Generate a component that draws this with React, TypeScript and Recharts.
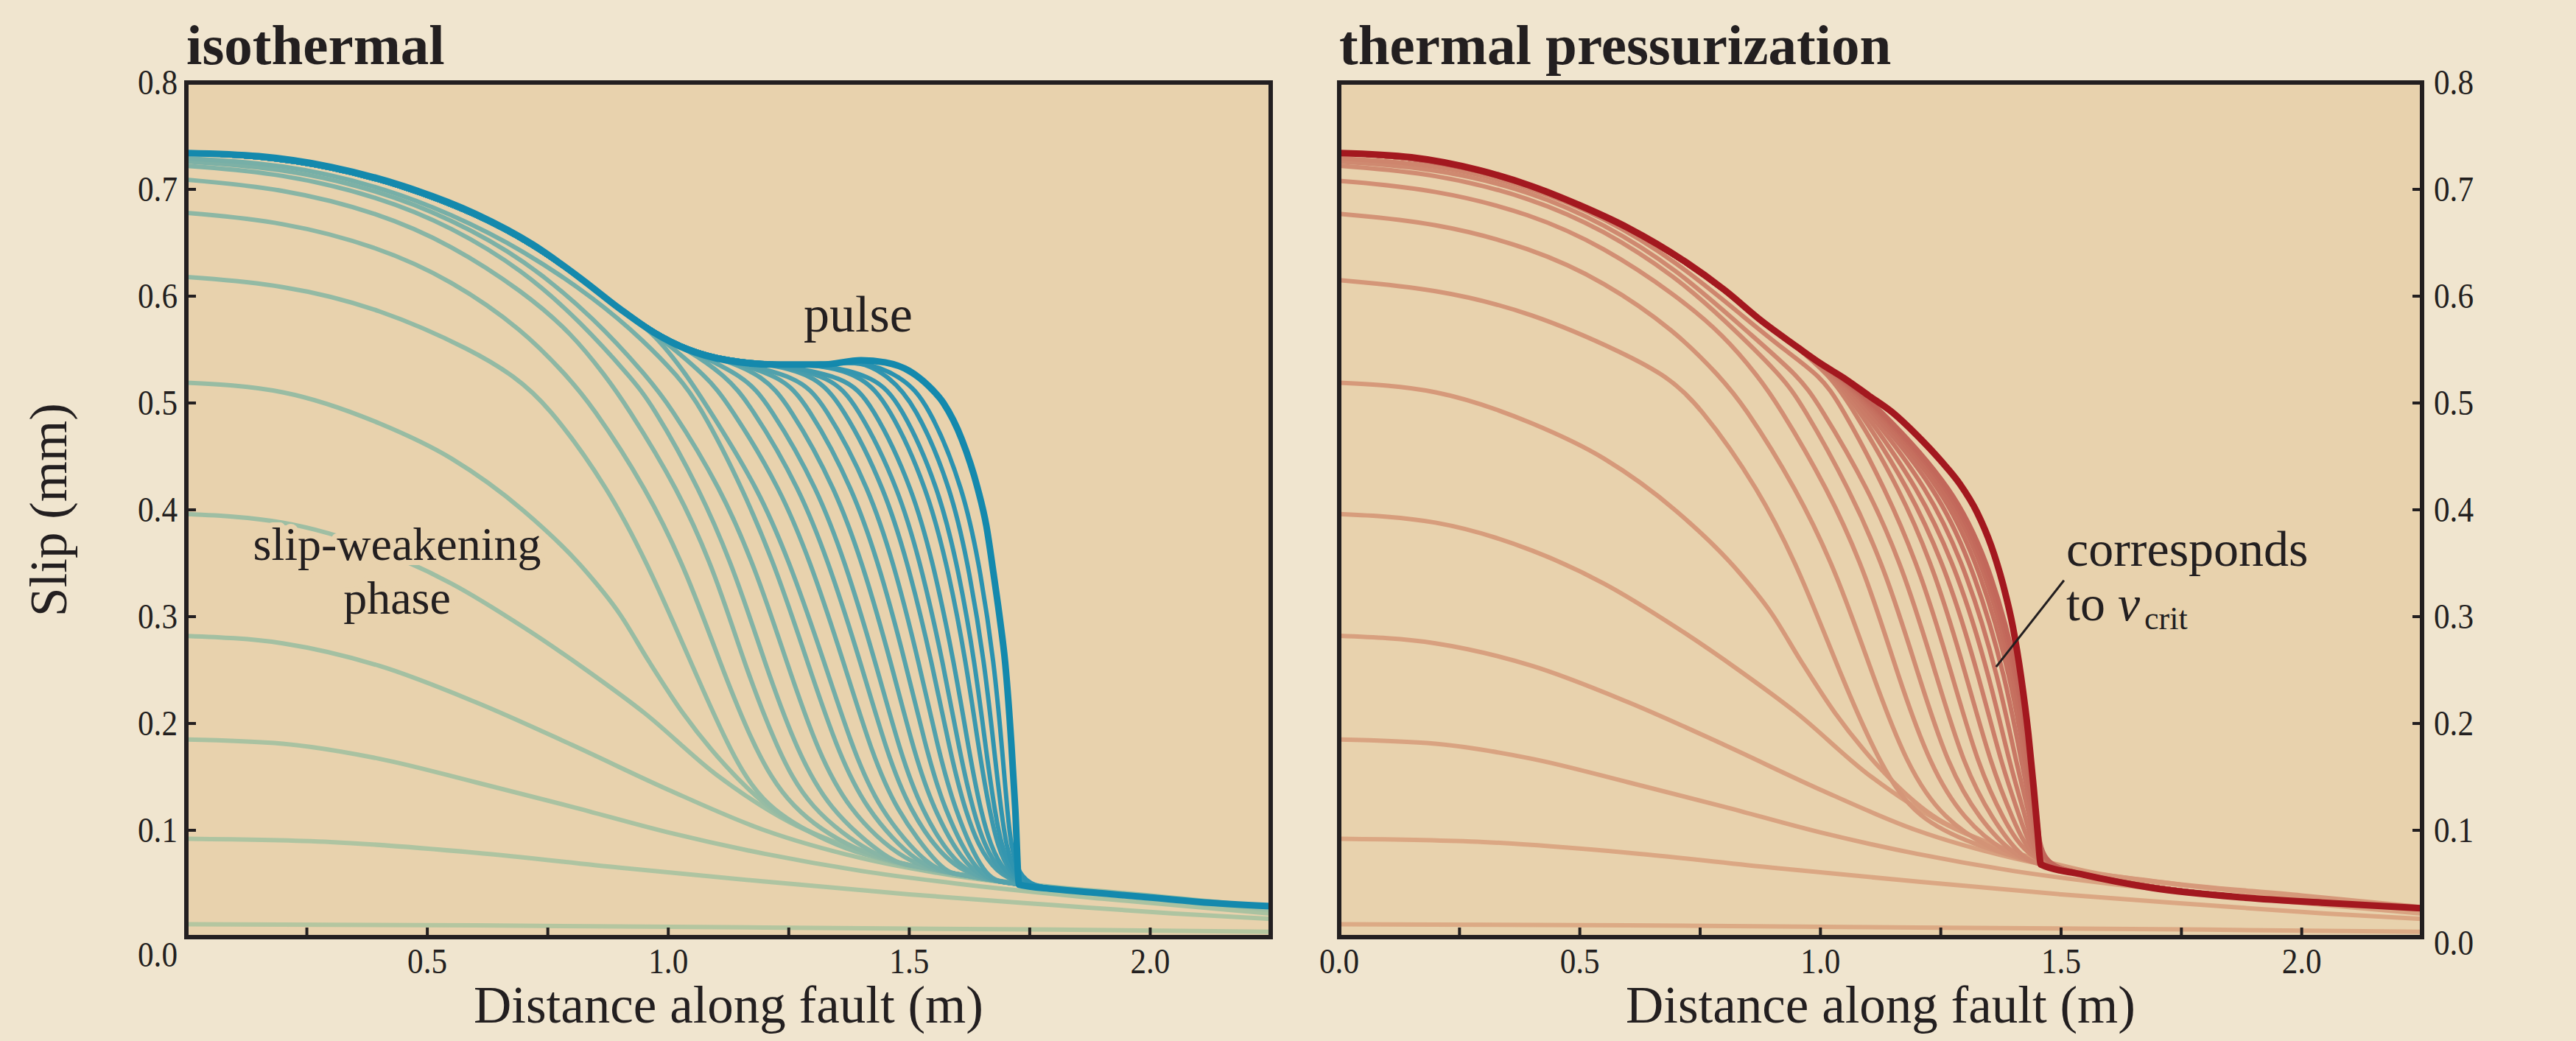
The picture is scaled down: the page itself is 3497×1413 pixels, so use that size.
import { CartesianGrid, Line, LineChart, ReferenceLine, XAxis, YAxis } from 'recharts';

type Pair = [number, number];

const W = 3497;
const H = 1413;
const INK = '#231f20';
const PAGE_BG = '#f0e5cf';
const PLOT_BG = '#e8d2ad';
const FONT = '"Liberation Serif", "DejaVu Serif", serif';

const X_TICKS = [0, 0.25, 0.5, 0.75, 1, 1.25, 1.5, 1.75, 2];
const X_LABELS = [0, 0.5, 1, 1.5, 2];
const Y_TICKS = [0, 0.1, 0.2, 0.3, 0.4, 0.5, 0.6, 0.7, 0.8];

// slip-weakening phase, identical in both panels (distance m, slip mm)
const EARLY_PROFILES: Pair[][] = [
  [[0, 0.012], [0.6, 0.011], [1.2, 0.009], [1.8, 0.007], [2.25, 0.005]],
  [[0, 0.092], [0.3, 0.089], [0.6, 0.079], [0.9, 0.065], [1.2, 0.052], [1.5, 0.04], [1.8, 0.03], [2.05, 0.022], [2.25, 0.017]],
  [[0, 0.185], [0.2, 0.181], [0.4, 0.167], [0.6, 0.145], [0.8, 0.122], [1.0, 0.098], [1.2, 0.078], [1.4, 0.062], [1.6, 0.05], [1.9, 0.036], [2.25, 0.022]],
  [[0, 0.282], [0.2, 0.275], [0.4, 0.254], [0.6, 0.22], [0.8, 0.18], [1.0, 0.138], [1.2, 0.1], [1.4, 0.074], [1.6, 0.057], [1.9, 0.042], [2.25, 0.025]],
  [[0, 0.396], [0.2, 0.388], [0.4, 0.362], [0.55, 0.331], [0.7, 0.29], [0.83, 0.25], [0.95, 0.21], [1.1, 0.152], [1.25, 0.108], [1.4, 0.08], [1.55, 0.062], [1.75, 0.049], [2.0, 0.037], [2.25, 0.026]],
  [[0, 0.519], [0.2, 0.51], [0.4, 0.481], [0.55, 0.448], [0.7, 0.399], [0.82, 0.347], [0.9, 0.302], [0.96, 0.258], [1.03, 0.21], [1.12, 0.16], [1.22, 0.118], [1.35, 0.088], [1.5, 0.066], [1.7, 0.052], [2.0, 0.039], [2.25, 0.028]],
];

// ---- isothermal ----
const ISO_HEADS: Pair[][] = [
  [[0, 0.618], [0.2, 0.611], [0.4, 0.589], [0.6, 0.548]],
  [[0, 0.678], [0.2, 0.67], [0.4, 0.646], [0.55, 0.615], [0.7, 0.568]],
  [[0, 0.709], [0.2, 0.701], [0.4, 0.678], [0.55, 0.648], [0.7, 0.604], [0.8, 0.565]],
  [[0, 0.722], [0.2, 0.715], [0.4, 0.693], [0.55, 0.665], [0.7, 0.624], [0.82, 0.575]],
  [[0, 0.726], [0.2, 0.72], [0.4, 0.699], [0.55, 0.672], [0.7, 0.635], [0.85, 0.578]],
  [[0, 0.729], [0.2, 0.724], [0.4, 0.703], [0.55, 0.677], [0.7, 0.643], [0.85, 0.597], [0.95, 0.558]],
];
const ISO_ENVELOPE: Pair[] = [
  [0, 0.734], [0.15, 0.731], [0.3, 0.721], [0.45, 0.703], [0.6, 0.677], [0.72, 0.648], [0.82, 0.616],
  [0.9, 0.588], [0.97, 0.566], [1.04, 0.55], [1.12, 0.54], [1.22, 0.536], [1.32, 0.536], [1.4, 0.54], [1.45, 0.538],
];
const ISO_LEVELS = [0.525, 0.5, 0.42, 0.34, 0.257, 0.18, 0.12];
// x where each later profile crosses ISO_LEVELS, then the point where it meets the tail
const ISO_FRONTS: number[][] = [
  [0.68, 0.747, 0.877, 0.967, 1.047, 1.122, 1.197, 1.347, 0.086],
  [0.79, 0.838, 0.955, 1.04, 1.107, 1.175, 1.25, 1.393, 0.079],
  [0.87, 0.91, 1.02, 1.098, 1.157, 1.222, 1.29, 1.43, 0.075],
  [0.92, 0.965, 1.065, 1.14, 1.2, 1.262, 1.33, 1.459, 0.071],
  [0.955, 1.0, 1.11, 1.185, 1.246, 1.305, 1.37, 1.492, 0.068],
  [1.02, 1.063, 1.155, 1.228, 1.289, 1.347, 1.407, 1.521, 0.065],
  [1.04, 1.076, 1.188, 1.261, 1.324, 1.38, 1.435, 1.543, 0.063],
  [1.08, 1.124, 1.234, 1.304, 1.364, 1.417, 1.469, 1.569, 0.061],
  [1.12, 1.168, 1.274, 1.341, 1.399, 1.449, 1.497, 1.591, 0.06],
  [1.158, 1.207, 1.311, 1.375, 1.43, 1.477, 1.522, 1.608, 0.058],
  [1.197, 1.248, 1.348, 1.41, 1.462, 1.506, 1.548, 1.627, 0.057],
  [1.235, 1.287, 1.384, 1.443, 1.492, 1.533, 1.571, 1.643, 0.055],
  [1.27, 1.323, 1.418, 1.474, 1.52, 1.558, 1.593, 1.657, 0.054],
  [1.305, 1.359, 1.45, 1.503, 1.547, 1.582, 1.613, 1.671, 0.053],
  [1.336, 1.39, 1.479, 1.529, 1.57, 1.602, 1.63, 1.68, 0.053],
  [1.368, 1.422, 1.508, 1.555, 1.593, 1.622, 1.646, 1.69, 0.052],
  [1.402, 1.456, 1.538, 1.583, 1.618, 1.643, 1.665, 1.701, 0.051],
  [1.428, 1.482, 1.562, 1.604, 1.636, 1.658, 1.676, 1.706, 0.051],
  [1.457, 1.511, 1.588, 1.626, 1.656, 1.675, 1.69, 1.712, 0.05],
  [1.485, 1.539, 1.613, 1.649, 1.676, 1.692, 1.703, 1.719, 0.05],
];
const ISO_TAIL: Pair[] = [
  [1.3, 0.094], [1.4, 0.078], [1.5, 0.067], [1.6, 0.059], [1.7, 0.051], [1.8, 0.045], [1.9, 0.041], [2.0, 0.037], [2.1, 0.033], [2.25, 0.029],
];
const ISO_FINAL_FRONT: Pair[] = [
  [1.5, 0.53], [1.54, 0.516], [1.571, 0.5], [1.609, 0.466], [1.642, 0.42], [1.66, 0.385], [1.675, 0.34], [1.688, 0.298],
  [1.699, 0.257], [1.712, 0.18], [1.72, 0.12], [1.728, 0.049], [1.8, 0.045], [1.9, 0.041], [2.0, 0.037], [2.1, 0.033], [2.25, 0.029],
];

// ---- thermal pressurization ----
const TP_HEADS: Pair[][] = [
  [[0, 0.615], [0.2, 0.607], [0.4, 0.585], [0.6, 0.545]],
  [[0, 0.677], [0.2, 0.669], [0.4, 0.645], [0.55, 0.614], [0.7, 0.567]],
  [[0, 0.708], [0.2, 0.7], [0.4, 0.677], [0.55, 0.646], [0.7, 0.601], [0.8, 0.563]],
  [[0, 0.722], [0.2, 0.715], [0.4, 0.692], [0.55, 0.662], [0.7, 0.618], [0.8, 0.578]],
  [[0, 0.726], [0.2, 0.72], [0.4, 0.698], [0.55, 0.668], [0.7, 0.626], [0.85, 0.566]],
  [[0, 0.729], [0.2, 0.724], [0.4, 0.702], [0.55, 0.674], [0.7, 0.633], [0.85, 0.577], [0.93, 0.548]],
];
const TP_ENVELOPE: Pair[] = [
  [0, 0.734], [0.15, 0.73], [0.29, 0.718], [0.4, 0.703], [0.5, 0.685], [0.6, 0.664], [0.72, 0.632],
  [0.8, 0.606], [0.88, 0.576], [0.95, 0.553], [1.0, 0.537], [1.05, 0.523], [1.1, 0.507],
];
const TP_LEVELS = [0.525, 0.5, 0.42, 0.34, 0.243, 0.16, 0.11];
const TP_FRONTS: number[][] = [
  [0.68, 0.745, 0.872, 0.96, 1.044, 1.125, 1.2, 1.33, 0.085],
  [0.79, 0.838, 0.95, 1.035, 1.11, 1.18, 1.255, 1.36, 0.081],
  [0.87, 0.91, 1.015, 1.095, 1.162, 1.228, 1.297, 1.385, 0.078],
  [0.92, 0.96, 1.06, 1.138, 1.205, 1.265, 1.33, 1.405, 0.075],
  [0.955, 0.995, 1.1, 1.176, 1.242, 1.298, 1.357, 1.42, 0.073],
  [1.0, 1.04, 1.135, 1.21, 1.275, 1.328, 1.38, 1.432, 0.072],
  [1.02, 1.06, 1.165, 1.24, 1.304, 1.355, 1.4, 1.44, 0.071],
  [1.027, 1.07, 1.185, 1.265, 1.33, 1.377, 1.416, 1.446, 0.07],
  [1.032, 1.078, 1.205, 1.287, 1.352, 1.394, 1.428, 1.45, 0.069],
  [1.036, 1.086, 1.225, 1.306, 1.37, 1.408, 1.437, 1.453, 0.069],
  [1.039, 1.093, 1.243, 1.322, 1.385, 1.419, 1.443, 1.455, 0.068],
  [1.041, 1.099, 1.256, 1.335, 1.396, 1.427, 1.446, 1.456, 0.068],
  [1.042, 1.104, 1.266, 1.345, 1.404, 1.432, 1.448, 1.457, 0.068],
  [1.043, 1.108, 1.274, 1.352, 1.41, 1.436, 1.45, 1.457, 0.068],
  [1.044, 1.112, 1.28, 1.358, 1.414, 1.439, 1.451, 1.458, 0.068],
];
const TP_TAIL: Pair[] = [
  [1.35, 0.083], [1.4, 0.076], [1.458, 0.068], [1.54, 0.059], [1.69, 0.046], [1.88, 0.037], [2.05, 0.032], [2.25, 0.027],
];
const TP_FINAL_FRONT: Pair[] = [
  [1.15, 0.491], [1.2, 0.47], [1.25, 0.446], [1.29, 0.424], [1.325, 0.398], [1.355, 0.366], [1.38, 0.329], [1.4, 0.29],
  [1.417, 0.243], [1.432, 0.19], [1.443, 0.14], [1.451, 0.1], [1.458, 0.068], [1.54, 0.059], [1.69, 0.046], [1.88, 0.037], [2.05, 0.032], [2.25, 0.027],
];

// leader for the "corresponds to v_crit" note, in data units of the right panel
const LEADER: Pair[] = [[1.365, 0.253], [1.506, 0.334]];

function buildCurves(heads: Pair[][], envelope: Pair[], levels: number[], fronts: number[][], tail: Pair[], finalFront: Pair[]) {
  const curves: Pair[][] = EARLY_PROFILES.map((c) => c.slice());
  fronts.forEach((row, k) => {
    const xs = row.slice(0, levels.length);
    const join: Pair = [row[levels.length], row[levels.length + 1]];
    const head = heads[k] ?? envelope;
    const pts: Pair[] = head.filter(([x]) => x < xs[0] - 0.05);
    levels.forEach((lv, i) => pts.push([xs[i], lv]));
    pts.push(join);
    tail.filter(([x]) => x > join[0] + 0.03).forEach((p) => pts.push(p));
    curves.push(pts);
  });
  curves.push([...envelope, ...finalFront]);
  return curves;
}

function hexToRgb(h: string) {
  const n = parseInt(h.slice(1), 16);
  return [(n >> 16) & 255, (n >> 8) & 255, n & 255];
}

function ramp(from: string, to: string, last: string, count: number) {
  const a = hexToRgb(from);
  const b = hexToRgb(to);
  const out: string[] = [];
  for (let i = 0; i < count - 1; i++) {
    const t = count > 2 ? i / (count - 2) : 0;
    const c = a.map((v, j) => Math.round(v + (b[j] - v) * t));
    out.push(`rgb(${c[0]},${c[1]},${c[2]})`);
  }
  out.push(last);
  return out;
}

const isoCurves = buildCurves(ISO_HEADS, ISO_ENVELOPE, ISO_LEVELS, ISO_FRONTS, ISO_TAIL, ISO_FINAL_FRONT);
const tpCurves = buildCurves(TP_HEADS, TP_ENVELOPE, TP_LEVELS, TP_FRONTS, TP_TAIL, TP_FINAL_FRONT);
const isoColors = ramp('#b4c6a0', '#2a92b0', '#1489ad', isoCurves.length);
const tpColors = ramp('#dcaa85', '#c2675a', '#a3181f', tpCurves.length);

const AXIS_LINE = { stroke: INK, strokeWidth: 6, strokeLinecap: 'square' as const };
const TICK_LINE = { stroke: INK, strokeWidth: 4 };
const AXIS_SIZE = 60;
const TICK_FONT = 48;

function TickText({ x, y, anchor, children }: { x: number; y: number; anchor: 'start' | 'middle' | 'end'; children: string }) {
  // the original tick numerals are a narrow face, so squeeze a little
  return (
    <text transform={`translate(${x} ${y}) scale(0.9 1)`} textAnchor={anchor} fontFamily={FONT} fontSize={TICK_FONT} fill={INK}>
      {children}
    </text>
  );
}

function bottomTick(showZero: boolean) {
  return (props: any) => {
    const { x, y, payload } = props;
    const v = payload.value as number;
    if (!X_LABELS.includes(v) || (v === 0 && !showZero)) return <g />;
    return <TickText x={x} y={y + 62} anchor="middle">{v.toFixed(1)}</TickText>;
  };
}

function sideTick(side: 'left' | 'right') {
  return (props: any) => {
    const { x, y, payload } = props;
    const v = payload.value as number;
    const lift = v === 0 ? (side === 'left' ? 24 : 8) : 0;
    return (
      <TickText x={side === 'left' ? x - 25 : x + 29} y={y + 16 + lift} anchor={side === 'left' ? 'end' : 'start'}>
        {v.toFixed(1)}
      </TickText>
    );
  };
}

interface PanelProps {
  curves: Pair[][];
  colors: string[];
  left: number;
  width: number;
  margin: { top: number; right: number; bottom: number; left: number };
  labelSide: 'left' | 'right';
  leader?: Pair[];
}

function SlipPanel({ curves, colors, left, width, margin, labelSide, leader }: PanelProps) {
  const last = curves.length - 1;
  return (
    <div style={{ position: 'absolute', left, top: 0 }}>
      <LineChart width={width} height={H} margin={margin}>
        <CartesianGrid xAxisId="b" yAxisId="l" fill={PLOT_BG} stroke="none" horizontal={false} vertical={false} />
        <XAxis
          xAxisId="b"
          dataKey="x"
          type="number"
          domain={[0, 2.25]}
          ticks={X_TICKS}
          interval={0}
          height={AXIS_SIZE}
          tickSize={-13}
          tickMargin={0}
          axisLine={AXIS_LINE}
          tickLine={TICK_LINE}
          tick={bottomTick(labelSide === 'right')}
          allowDataOverflow
        />
        <XAxis
          xAxisId="t"
          orientation="top"
          dataKey="x"
          type="number"
          domain={[0, 2.25]}
          ticks={X_TICKS}
          interval={0}
          height={AXIS_SIZE}
          tickSize={-13}
          tickMargin={0}
          axisLine={AXIS_LINE}
          tickLine={TICK_LINE}
          tick={false}
          allowDataOverflow
        />
        <YAxis
          yAxisId="l"
          type="number"
          domain={[0, 0.8]}
          ticks={Y_TICKS}
          interval={0}
          width={AXIS_SIZE}
          tickSize={-13}
          tickMargin={0}
          axisLine={AXIS_LINE}
          tickLine={TICK_LINE}
          tick={labelSide === 'left' ? sideTick('left') : false}
          allowDataOverflow
        />
        <YAxis
          yAxisId="r"
          orientation="right"
          type="number"
          domain={[0, 0.8]}
          ticks={Y_TICKS}
          interval={0}
          width={AXIS_SIZE}
          tickSize={-13}
          tickMargin={0}
          axisLine={AXIS_LINE}
          tickLine={TICK_LINE}
          tick={labelSide === 'right' ? sideTick('right') : false}
          allowDataOverflow
        />
        {curves.map((pts, i) => (
          <Line
            key={i}
            xAxisId="b"
            yAxisId="l"
            data={pts.map(([x, y]) => ({ x, y }))}
            dataKey="y"
            type={i === last || i < EARLY_PROFILES.length ? 'monotone' : 'basis'}
            dot={false}
            activeDot={false}
            stroke={colors[i]}
            strokeWidth={i === last ? 9 : 6}
            strokeLinejoin="round"
            isAnimationActive={false}
          />
        ))}
        {leader && (
          <ReferenceLine
            xAxisId="b"
            yAxisId="l"
            segment={leader.map(([x, y]) => ({ x, y }))}
            stroke={INK}
            strokeWidth={3}
            ifOverflow="visible"
          />
        )}
      </LineChart>
    </div>
  );
}

export default function App() {
  // plot boxes: left x 253..1725, right x 1818..3288, both y 112..1272
  return (
    <div style={{ position: 'absolute', left: 0, top: 0, width: W, height: H, background: PAGE_BG, overflow: 'hidden' }}>
      <SlipPanel
        curves={isoCurves}
        colors={isoColors}
        left={0}
        width={1840}
        margin={{ top: 112 - AXIS_SIZE, right: 1840 - 1725 - AXIS_SIZE, bottom: 141 - AXIS_SIZE, left: 253 - AXIS_SIZE }}
        labelSide="left"
      />
      <SlipPanel
        curves={tpCurves}
        colors={tpColors}
        left={1640}
        width={W - 1640}
        margin={{ top: 112 - AXIS_SIZE, right: W - 3288 - AXIS_SIZE, bottom: 141 - AXIS_SIZE, left: 1818 - 1640 - AXIS_SIZE }}
        labelSide="right"
        leader={LEADER}
      />
      <svg
        width={W}
        height={H}
        style={{ position: 'absolute', left: 0, top: 0, pointerEvents: 'none' }}
        fontFamily={FONT}
        fill={INK}
      >
        <text x={253} y={87} fontSize={77} fontWeight="bold">isothermal</text>
        <text x={1818} y={87} fontSize={77} fontWeight="bold">thermal pressurization</text>
        <text transform="translate(90 692) rotate(-90)" textAnchor="middle" fontSize={71}>Slip (mm)</text>
        <text x={989} y={1388} textAnchor="middle" fontSize={71}>Distance along fault (m)</text>
        <text x={2553} y={1388} textAnchor="middle" fontSize={71}>Distance along fault (m)</text>
        <text x={1091} y={450} fontSize={70}>pulse</text>
        <g fontSize={64} textAnchor="middle" stroke={PLOT_BG} strokeWidth={14} paintOrder="stroke" strokeLinejoin="round">
          <text x={539} y={760}>slip-weakening</text>
          <text x={539} y={833}>phase</text>
        </g>
        <text x={2805} y={768} fontSize={68}>corresponds</text>
        <text x={2805} y={842} fontSize={68}>
          to <tspan fontStyle="italic">v</tspan>
          <tspan fontSize={44} dx={6} dy={12}>crit</tspan>
        </text>
      </svg>
    </div>
  );
}
